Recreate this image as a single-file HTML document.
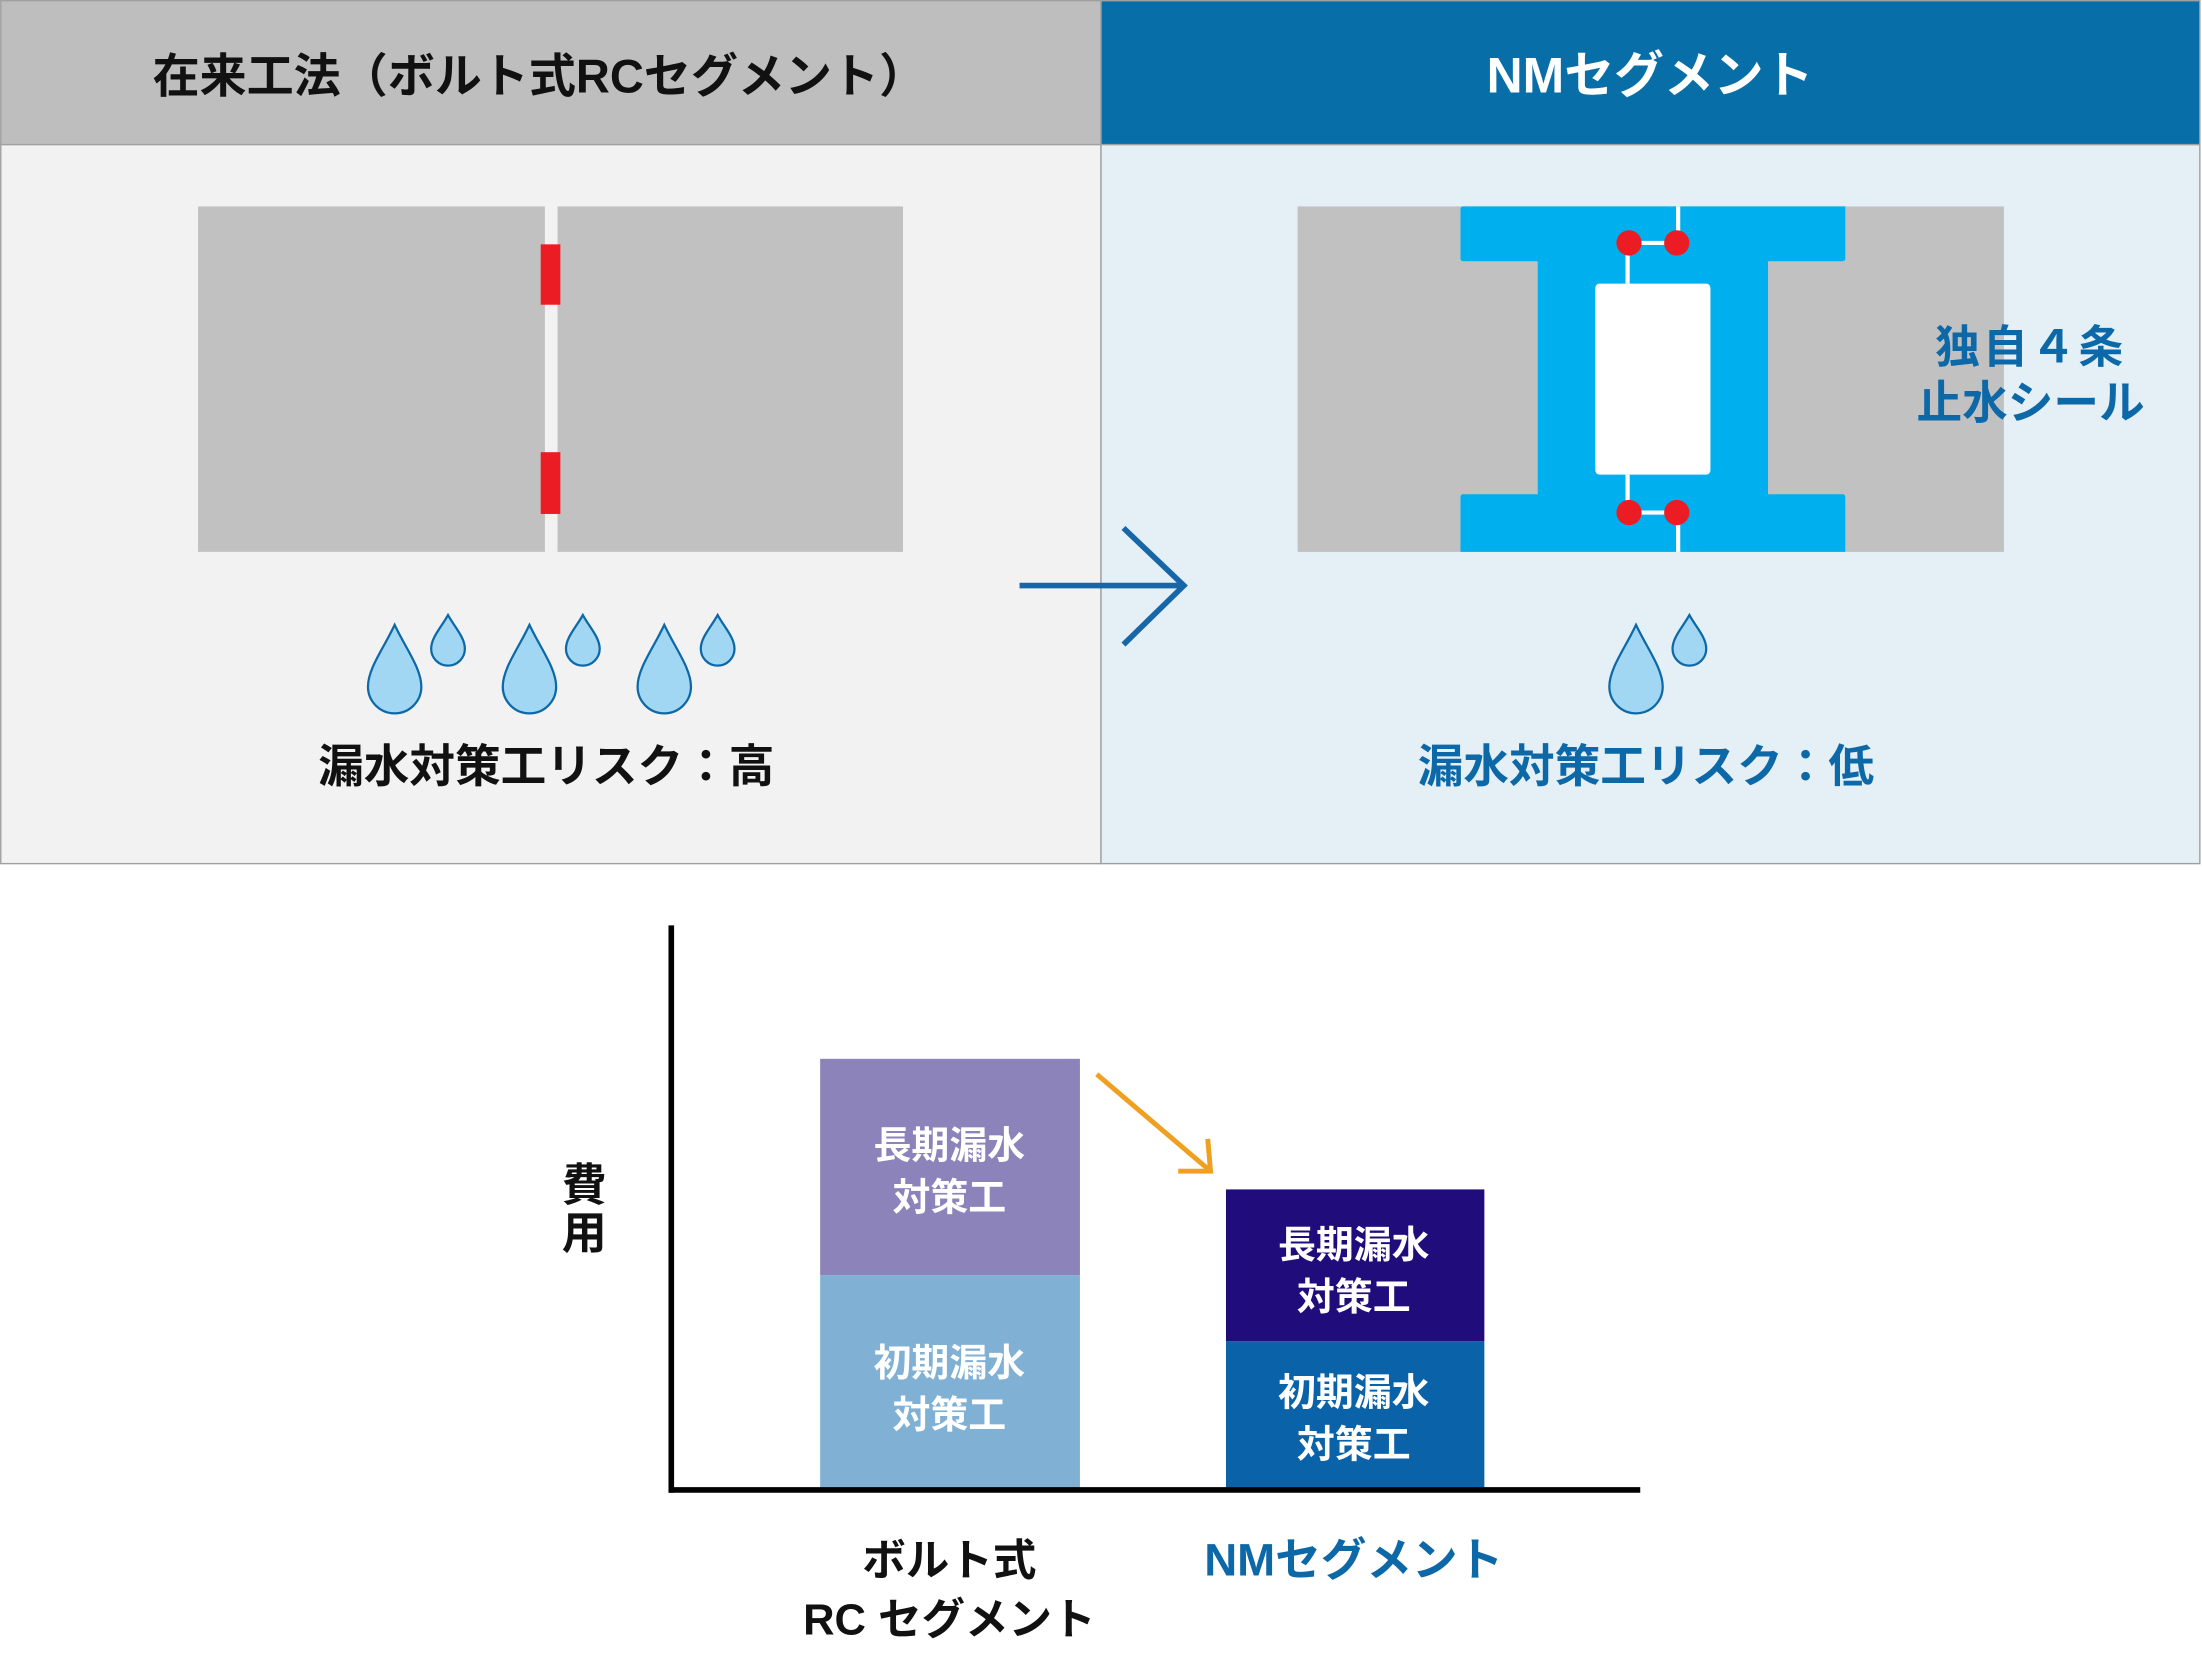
<!DOCTYPE html>
<html><head><meta charset="utf-8"><style>
html,body{margin:0;padding:0;background:#fff;}
svg{display:block;}
text{font-family:"Liberation Sans","Noto Sans CJK JP",sans-serif;font-weight:bold;}
</style></head><body>
<svg width="2202" height="1659" viewBox="0 0 1568 1181.4" xmlns="http://www.w3.org/2000/svg">
<defs>
<path id="bd" d="M0,445 C8,462 19,476 19,489 A19,19 0 0 1 -19,489 C-19,476 -8,462 0,445 Z" fill="#a2d7f4" stroke="#0d68a8" stroke-width="1.6"/>
<path id="sd" d="M0,438 C5,447 12,454 12,462 A12,12 0 0 1 -12,462 C-12,454 -5,447 0,438 Z" fill="#a2d7f4" stroke="#0d68a8" stroke-width="1.6"/>
</defs>
<rect x="0.5" y="0.5" width="783.5" height="102.5" fill="#bebebe" stroke="#a0a0a0"/>
<rect x="784" y="0.5" width="782.5" height="102.5" fill="#086ea8" stroke="#a0a0a0"/>
<rect x="0.5" y="103" width="783.5" height="512" fill="#f2f2f2" stroke="#a0a0a0"/>
<rect x="784" y="103" width="782.5" height="512" fill="#e4eff6" stroke="#a0a0a0"/>
<text x="384" y="66" font-size="33.5" text-anchor="middle" fill="#111">在来工法（ボルト式RCセグメント）</text>
<text x="1175" y="66" font-size="35.5" text-anchor="middle" fill="#fff">NMセグメント</text>
<rect x="141" y="147" width="247" height="246" fill="#c1c1c1"/>
<rect x="397" y="147" width="246" height="246" fill="#c1c1c1"/>
<rect x="385" y="174" width="14" height="43" fill="#ec1c24"/>
<rect x="385" y="322" width="14" height="44" fill="#ec1c24"/>
<use href="#bd" x="281"/><use href="#sd" x="319"/>
<use href="#bd" x="377"/><use href="#sd" x="415"/>
<use href="#bd" x="473"/><use href="#sd" x="511"/>
<text x="389" y="557" font-size="32.5" text-anchor="middle" fill="#111">漏水対策工リスク：高</text>
<line x1="726" y1="417" x2="843" y2="417" stroke="#1766a8" stroke-width="4"/>
<polyline points="800,376 843,417 800,459" fill="none" stroke="#1766a8" stroke-width="4"/>
<rect x="924" y="147" width="503" height="246" fill="#c1c1c1"/>
<path d="M1042,147 H1314 V184 Q1314,186 1312,186 H1259 V352 H1312 Q1314,352 1314,354 V393 H1040 V354 Q1040,352 1042,352 H1095 V186 H1042 Q1040,186 1040,184 V149 Q1040,147 1042,147 Z" fill="#00b0ee"/>
<rect x="1136" y="202" width="82" height="136" rx="3" fill="#fff"/>
<g stroke="#fff" stroke-width="3" fill="none">
<line x1="1195" y1="147" x2="1195" y2="173"/>
<line x1="1195" y1="365" x2="1195" y2="393"/>
<line x1="1159" y1="173" x2="1159" y2="202"/>
<line x1="1159" y1="338" x2="1159" y2="365"/>
<line x1="1160" y1="173" x2="1194" y2="173"/>
<line x1="1160" y1="365" x2="1194" y2="365"/>
</g>
<g fill="#ec1c24">
<circle cx="1160" cy="173" r="9"/><circle cx="1194" cy="173" r="9"/>
<circle cx="1160" cy="365" r="9"/><circle cx="1194" cy="365" r="9"/>
</g>
<text x="1446" y="258" font-size="32" text-anchor="middle" fill="#0d68a8" letter-spacing="2">独自４条</text>
<text x="1446" y="298" font-size="32.5" text-anchor="middle" fill="#0d68a8">止水シール</text>
<use href="#bd" x="1165"/><use href="#sd" x="1203"/>
<text x="1172" y="557" font-size="32.5" text-anchor="middle" fill="#0d68a8">漏水対策工リスク：低</text>
<rect x="584" y="754" width="185" height="154" fill="#8c83bb"/>
<rect x="584" y="908" width="185" height="153" fill="#80b0d3"/>
<rect x="873" y="847" width="184" height="108" fill="#210c7c"/>
<rect x="873" y="955" width="184" height="106" fill="#0a62a8"/>
<g font-size="27" text-anchor="middle" fill="#fff">
<text x="676" y="825">長期漏水</text><text x="676" y="862">対策工</text>
<text x="676" y="980">初期漏水</text><text x="676" y="1017">対策工</text>
<text x="964" y="896">長期漏水</text><text x="964" y="933">対策工</text>
<text x="964" y="1001">初期漏水</text><text x="964" y="1038">対策工</text>
</g>
<line x1="478" y1="659" x2="478" y2="1063" stroke="#000" stroke-width="4"/>
<line x1="476" y1="1061" x2="1168" y2="1061" stroke="#000" stroke-width="4"/>
<g stroke="#f0a020" stroke-width="3.5" fill="none">
<line x1="781" y1="765" x2="862" y2="834"/>
<polyline points="860,811 862,834 839,834"/>
</g>
<text x="416" y="855" font-size="32" text-anchor="middle" fill="#111">費</text>
<text x="416" y="889" font-size="32" text-anchor="middle" fill="#111">用</text>
<text x="676" y="1122" font-size="31" text-anchor="middle" fill="#111">ボルト式</text>
<text x="676" y="1164" font-size="31" text-anchor="middle" fill="#111">RC セグメント</text>
<text x="964" y="1122" font-size="32.5" text-anchor="middle" fill="#0d68a8">NMセグメント</text>
</svg>
</body></html>
